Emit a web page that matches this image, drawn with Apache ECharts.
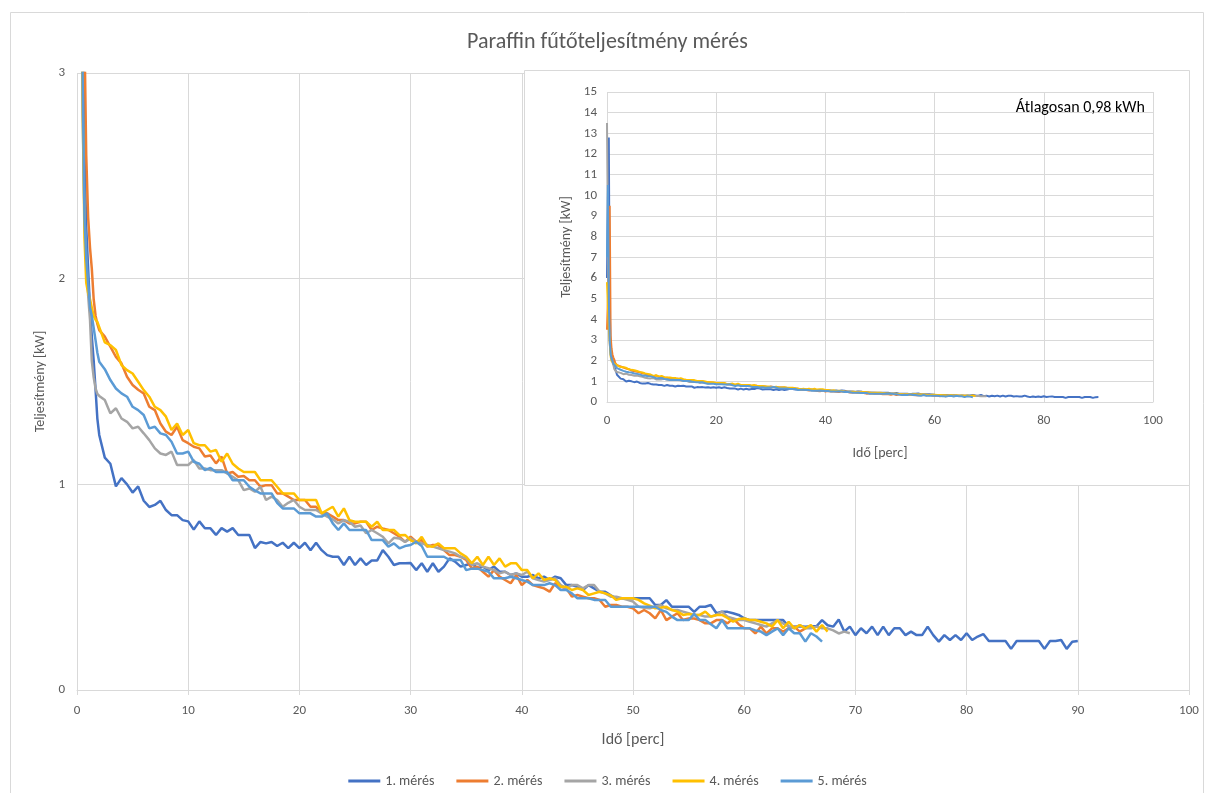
<!DOCTYPE html>
<html>
<head>
<meta charset="utf-8">
<script src="https://cdn.jsdelivr.net/npm/echarts@6/dist/echarts.min.js"></script>
<style>html,body{margin:0;padding:0;background:#fff}#c{width:1215px;height:793px}</style>
</head>
<body>
<div id="c"></div>
<script>
// ---- data ----
const seriesNames = ['1. mérés', '2. mérés', '3. mérés', '4. mérés', '5. mérés'];
const seriesColors = ['#4472C4', '#ED7D31', '#A5A5A5', '#FFC000', '#5B9BD5'];

// first two minutes (times in minutes)
const earlyT = [0, 0.17, 0.33, 0.5, 0.67, 0.83, 1.0, 1.17, 1.33, 1.5, 1.67, 1.83];
const s1Early = [6.0, 10.0, 12.8, 4.5, 2.6, 2.25, 2.05, 1.85, 1.72, 1.6, 1.46, 1.32];
const s2Early = [3.5, 5.0, 7.5, 9.5, 3.2, 2.6, 2.3, 2.15, 2.05, 1.9, 1.82, 1.78];
const s3Early = [13.5, 8.0, 4.0, 2.8, 2.3, 2.1, 1.92, 1.8, 1.6, 1.52, 1.466, 1.44];
const s4Early = [5.8, 4.6, 3.6, 2.9, 2.2, 1.98, 1.93, 1.9, 1.86, 1.82, 1.8, 1.79];
const s5Early = [7.0, 10.5, 5.0, 3.0, 2.3, 2.1, 1.98, 1.86, 1.82, 1.76, 1.70, 1.64];

// from minute 2 on, one reading every half minute
const lateStart = 2.0;
const lateStep = 0.5;
const s1 = [
  1.24,1.13,1.10,0.99,1.03,1.00,0.96,0.99,0.92,0.89,
  0.90,0.92,0.875,0.85,0.85,0.826,0.82,0.78,0.82,0.786,
  0.786,0.754,0.787,0.77,0.787,0.754,0.754,0.754,0.69,0.72,
  0.713,0.72,0.70,0.716,0.69,0.716,0.69,0.716,0.68,0.716,
  0.68,0.656,0.648,0.648,0.608,0.648,0.608,0.64,0.608,0.63,
  0.63,0.68,0.648,0.608,0.616,0.616,0.617,0.583,0.616,0.575,
  0.616,0.575,0.60,0.64,0.624,0.60,0.608,0.616,0.592,0.60,
  0.583,0.60,0.575,0.575,0.559,0.567,0.551,0.551,0.559,0.543,
  0.551,0.535,0.551,0.543,0.51,0.51,0.502,0.486,0.51,0.494,
  0.478,0.478,0.46,0.446,0.446,0.446,0.446,0.446,0.446,0.446,
  0.413,0.413,0.437,0.405,0.405,0.405,0.405,0.38,0.405,0.405,
  0.413,0.373,0.381,0.38,0.373,0.365,0.349,0.34,0.34,0.34,
  0.34,0.34,0.34,0.34,0.308,0.308,0.31,0.308,0.31,0.31,
  0.34,0.315,0.308,0.343,0.284,0.308,0.267,0.30,0.276,0.308,
  0.267,0.308,0.267,0.30,0.30,0.267,0.284,0.267,0.267,0.308,
  0.267,0.235,0.267,0.243,0.267,0.243,0.276,0.243,0.26,0.272,
  0.238,0.238,0.238,0.238,0.20,0.238,0.238,0.238,0.238,0.238,
  0.20,0.238,0.238,0.243,0.20,0.235,0.238
];
const s2 = [
  1.75,1.718,1.669,1.62,1.588,1.523,1.483,1.46,1.442,1.377,
  1.361,1.296,1.256,1.24,1.28,1.215,1.20,1.183,1.175,1.135,
  1.14,1.102,1.135,1.053,1.06,1.037,1.04,1.02,1.02,0.988,
  0.996,0.996,0.956,0.956,0.94,0.924,0.924,0.924,0.891,0.891,
  0.859,0.859,0.843,0.826,0.826,0.81,0.81,0.818,0.818,0.778,
  0.794,0.785,0.778,0.762,0.745,0.72,0.745,0.721,0.729,0.697,
  0.705,0.705,0.68,0.656,0.656,0.648,0.632,0.592,0.60,0.575,
  0.551,0.583,0.551,0.535,0.519,0.559,0.51,0.535,0.51,0.502,
  0.494,0.478,0.519,0.502,0.494,0.454,0.462,0.454,0.446,0.446,
  0.438,0.405,0.413,0.413,0.405,0.405,0.397,0.373,0.389,0.373,
  0.348,0.389,0.34,0.357,0.373,0.34,0.348,0.348,0.34,0.324,
  0.324,0.34,0.34,0.324,0.348,0.32,0.30,0.30,0.275,0.308,
  0.275,0.30,0.30,0.284,0.30,0.308,0.284,0.30
];
const s3 = [
  1.43,1.41,1.345,1.37,1.32,1.304,1.272,1.28,1.248,1.215,
  1.175,1.15,1.143,1.159,1.094,1.094,1.094,1.118,1.077,1.077,
  1.069,1.069,1.069,1.053,1.037,1.02,0.972,0.98,0.964,0.988,
  0.924,0.94,0.924,0.891,0.91,0.924,0.891,0.875,0.875,0.875,
  0.859,0.843,0.83,0.81,0.826,0.818,0.794,0.80,0.762,0.778,
  0.762,0.745,0.713,0.74,0.737,0.72,0.737,0.72,0.713,0.705,
  0.697,0.689,0.68,0.673,0.664,0.648,0.64,0.608,0.616,0.60,
  0.592,0.583,0.567,0.575,0.559,0.567,0.559,0.575,0.543,0.535,
  0.527,0.535,0.543,0.51,0.494,0.51,0.51,0.494,0.51,0.51,
  0.478,0.47,0.454,0.454,0.446,0.438,0.43,0.405,0.40,0.397,
  0.405,0.413,0.397,0.389,0.389,0.381,0.373,0.365,0.365,0.357,
  0.357,0.365,0.381,0.357,0.348,0.34,0.34,0.332,0.324,0.316,
  0.308,0.324,0.34,0.324,0.308,0.30,0.316,0.30,0.30,0.308,
  0.30,0.30,0.29,0.275,0.284,0.276
];
const s4 = [
  1.786,1.69,1.677,1.653,1.58,1.555,1.539,1.499,1.458,1.426,
  1.377,1.361,1.329,1.264,1.296,1.24,1.264,1.20,1.19,1.19,
  1.159,1.167,1.11,1.15,1.10,1.077,1.06,1.06,1.06,1.02,
  1.02,1.02,0.988,0.956,0.956,0.956,0.924,0.924,0.924,0.924,
  0.859,0.875,0.891,0.843,0.883,0.826,0.818,0.818,0.818,0.794,
  0.818,0.778,0.778,0.778,0.753,0.754,0.729,0.713,0.745,0.70,
  0.697,0.713,0.689,0.689,0.689,0.664,0.648,0.616,0.648,0.608,
  0.648,0.608,0.64,0.60,0.616,0.616,0.583,0.583,0.543,0.567,
  0.535,0.543,0.535,0.502,0.502,0.486,0.494,0.486,0.462,0.47,
  0.478,0.47,0.46,0.438,0.446,0.446,0.446,0.438,0.421,0.41,
  0.397,0.40,0.405,0.389,0.381,0.365,0.37,0.365,0.365,0.381,
  0.357,0.365,0.365,0.35,0.332,0.345,0.348,0.34,0.34,0.332,
  0.324,0.308,0.34,0.30,0.332,0.30,0.316,0.30,0.316,0.284,
  0.316,0.284
];
const s5 = [
  1.596,1.56,1.507,1.466,1.442,1.426,1.377,1.361,1.337,1.272,
  1.28,1.248,1.24,1.207,1.15,1.15,1.159,1.11,1.10,1.069,
  1.08,1.06,1.06,1.06,1.02,1.02,1.02,0.988,0.97,0.956,
  0.956,0.956,0.91,0.883,0.883,0.883,0.859,0.859,0.859,0.843,
  0.843,0.859,0.81,0.778,0.81,0.778,0.778,0.778,0.778,0.729,
  0.729,0.729,0.697,0.713,0.689,0.70,0.705,0.721,0.70,0.648,
  0.648,0.648,0.648,0.632,0.632,0.632,0.583,0.59,0.59,0.583,
  0.575,0.543,0.543,0.543,0.551,0.543,0.535,0.527,0.51,0.51,
  0.51,0.519,0.51,0.486,0.486,0.47,0.446,0.446,0.446,0.438,
  0.438,0.438,0.405,0.405,0.405,0.405,0.405,0.405,0.405,0.405,
  0.405,0.389,0.38,0.357,0.34,0.34,0.34,0.37,0.34,0.34,
  0.32,0.30,0.34,0.30,0.30,0.30,0.30,0.30,0.29,0.284,
  0.267,0.284,0.30,0.267,0.30,0.276,0.276,0.235,0.276,0.26,0.235
];

function build(early, late) {
  const out = early.map((v, i) => [earlyT[i], v]);
  late.forEach((v, i) => out.push([+(lateStart + i * lateStep).toFixed(2), v]));
  return out;
}
const allData = [build(s1Early, s1), build(s2Early, s2), build(s3Early, s3), build(s4Early, s4), build(s5Early, s5)];

// ---- chart ----
const FONT = 'Carlito, Lato, sans-serif';
const TXT = '#595959';
const GRID = '#d9d9d9';
const chart = echarts.init(document.getElementById('c'), null, { renderer: 'canvas' });

const series = [];
allData.forEach((d, i) => {
  series.push({
    name: seriesNames[i], type: 'line', data: d, xAxisIndex: 0, yAxisIndex: 0,
    showSymbol: false, symbol: 'none', lineStyle: { width: 2.5, color: seriesColors[i] },
    itemStyle: { color: seriesColors[i] }, z: 2, clip: true
  });
});
allData.forEach((d, i) => {
  series.push({
    name: seriesNames[i], type: 'line', data: d, xAxisIndex: 1, yAxisIndex: 1,
    showSymbol: false, symbol: 'none', lineStyle: { width: 2, color: seriesColors[i] },
    itemStyle: { color: seriesColors[i] }, z: 12, clip: true
  });
});

chart.setOption({
  animation: false,
  backgroundColor: '#fff',
  textStyle: { fontFamily: FONT },
  title: {
    text: 'Paraffin fűtőteljesítmény mérés', left: 'center', top: 26,
    textStyle: { fontFamily: FONT, fontSize: 22, fontWeight: 'normal', color: TXT }
  },
  legend: {
    data: seriesNames, left: 'center', top: 769, icon: 'rect', itemWidth: 32, itemHeight: 3,
    itemGap: 22, textStyle: { fontFamily: FONT, fontSize: 14, color: TXT }
  },
  grid: [
    { left: 77, top: 73, width: 1112, height: 617, containLabel: false },
    { left: 607, top: 92, width: 546, height: 310, containLabel: false }
  ],
  xAxis: [
    {
      gridIndex: 0, type: 'value', min: 0, max: 100, interval: 10,
      name: 'Idő [perc]', nameLocation: 'middle', nameGap: 42,
      nameTextStyle: { fontFamily: FONT, fontSize: 16, color: TXT },
      axisLine: { show: true, lineStyle: { color: GRID, width: 1 } },
      axisTick: { show: true, length: 5, lineStyle: { color: GRID } },
      axisLabel: { fontFamily: FONT, fontSize: 13, color: TXT, margin: 14 },
      splitLine: { show: true, lineStyle: { color: GRID, width: 1 } }
    },
    {
      gridIndex: 1, type: 'value', min: 0, max: 100, interval: 20, z: 10,
      name: 'Idő [perc]', nameLocation: 'middle', nameGap: 44,
      nameTextStyle: { fontFamily: FONT, fontSize: 14, color: TXT },
      axisLine: { show: true, lineStyle: { color: GRID, width: 1 } },
      axisTick: { show: false },
      axisLabel: { fontFamily: FONT, fontSize: 13, color: TXT, margin: 12 },
      splitLine: { show: true, lineStyle: { color: GRID, width: 1 } }
    }
  ],
  yAxis: [
    {
      gridIndex: 0, type: 'value', min: 0, max: 3, interval: 1,
      name: 'Teljesítmény [kW]', nameLocation: 'middle', nameGap: 29, nameRotate: 90,
      nameTextStyle: { fontFamily: FONT, fontSize: 14, color: TXT },
      axisLine: { show: false }, axisTick: { show: false },
      axisLabel: { fontFamily: FONT, fontSize: 13, color: TXT, margin: 12 },
      splitLine: { show: true, lineStyle: { color: GRID, width: 1 } }
    },
    {
      gridIndex: 1, type: 'value', min: 0, max: 15, interval: 1, z: 10,
      name: 'Teljesítmény [kW]', nameLocation: 'middle', nameGap: 34, nameRotate: 90,
      nameTextStyle: { fontFamily: FONT, fontSize: 14, color: TXT },
      axisLine: { show: false }, axisTick: { show: false },
      axisLabel: { fontFamily: FONT, fontSize: 13, color: TXT, margin: 10 },
      splitLine: { show: true, lineStyle: { color: GRID, width: 1 } }
    }
  ],
  graphic: {
    elements: [
      { type: 'rect', z: -10, silent: true, shape: { x: 10.5, y: 12.5, width: 1193, height: 790 },
        style: { fill: 'none', stroke: GRID, lineWidth: 1 } },
      { type: 'rect', z: 5, silent: true, shape: { x: 524.5, y: 70.5, width: 665, height: 415 },
        style: { fill: '#fff', stroke: GRID, lineWidth: 1 } },
      { type: 'text', z: 20, silent: true, x: 1145, y: 108,
        style: { text: 'Átlagosan 0,98 kWh', fill: '#000', font: '16px ' + FONT, align: 'right', verticalAlign: 'middle' } }
    ]
  },
  series: series
});
</script>
</body>
</html>
